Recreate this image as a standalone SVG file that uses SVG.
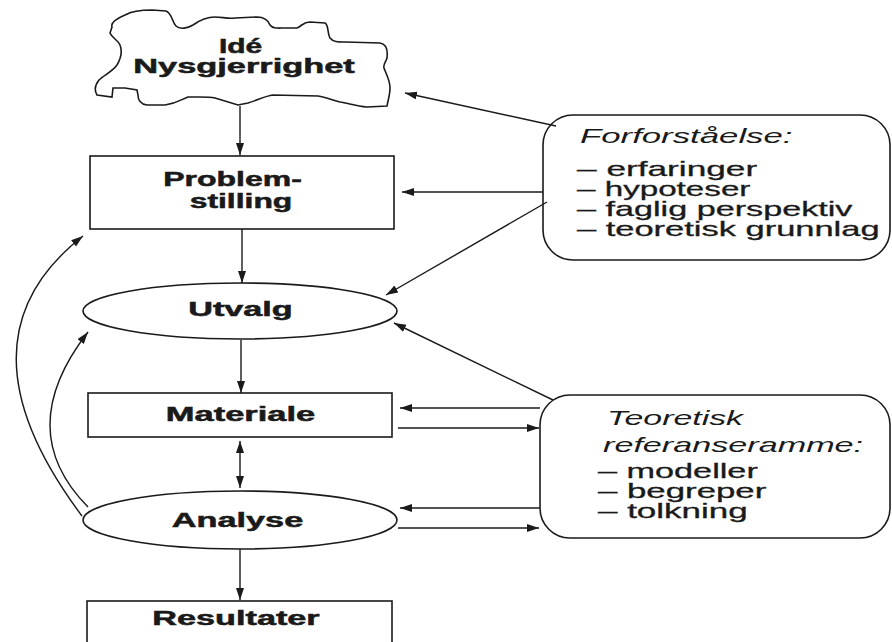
<svg xmlns="http://www.w3.org/2000/svg" width="892" height="642" viewBox="0 0 892 642">
<style>
.shape{fill:#fff;stroke:#1a1a1a;stroke-width:1.6}
.lbl{font-family:"Liberation Sans",Arial,sans-serif;font-weight:bold;font-size:19.5px;fill:#1a1a1a;stroke:#1a1a1a;stroke-width:0.5;text-anchor:middle}
.it{font-family:"Liberation Sans",Arial,sans-serif;font-style:italic;font-size:20px;fill:#1a1a1a}
.li{font-family:"Liberation Sans",Arial,sans-serif;font-size:20px;fill:#1a1a1a;stroke:#1a1a1a;stroke-width:0.3}
.con{fill:none;stroke:#1a1a1a;stroke-width:1.4}
</style>
<defs>
<marker id="ah" markerUnits="userSpaceOnUse" markerWidth="14" markerHeight="10" refX="12" refY="4" orient="auto-start-reverse">
<path d="M0,0 L12,4 L0,8 Z" fill="#1a1a1a"/>
</marker>
</defs>
<rect width="892" height="642" fill="#fff"/>
<g id="ide">
<path class="shape" d="M112,27 C110,22 118,18 125,15 C132,11 145,10 152,10 L166,11 C172,13 172,22 176,26 C180,30 188,28 193,25 C200,20 208,17 215,17 C222,17 228,19 235,18 L257,17 C264,17 268,20 270,25 C273,29 278,28 285,28 L297,28 C302,26 303,22 310,22 L325,23 C329,25 327,33 330,38 C333,42 338,42 345,42 L380,43 C386,44 388,50 387,58 C386,62 383,64 384,68 C386,74 390,80 390,88 C390,95 388,100 387,106 L367,107 C355,106 348,103 340,102 C332,100 326,97 318,96 L273,95 C265,96 258,100 248,103 L238,105 L215,98 C210,97 205,97 200,97 L188,97 C182,99 178,103 165,105 L147,105 C140,104 138,100 138,95 L137,90 L125,88 L113,88 L112,97 L97,95 C94,90 95,85 99,80 C104,75 112,72 117,65 C121,58 122,50 120,45 C118,40 112,38 110,33 Z"/>
<text class="lbl" transform="translate(240.5,53) scale(1.8,1)" textLength="24" lengthAdjust="spacingAndGlyphs">Idé</text>
<text class="lbl" transform="translate(244,73) scale(1.8,1)" textLength="123" lengthAdjust="spacingAndGlyphs">Nysgjerrighet</text>
</g>
<g id="problemstilling">
<rect class="shape" x="90" y="156" width="304" height="73"/>
<text class="lbl" transform="translate(232.5,186) scale(1.8,1)" textLength="77" lengthAdjust="spacingAndGlyphs">Problem-</text>
<text class="lbl" transform="translate(241,208) scale(1.8,1)" textLength="57" lengthAdjust="spacingAndGlyphs">stilling</text>
</g>
<g id="utvalg">
<ellipse class="shape" cx="240" cy="311" rx="157" ry="28"/>
<text class="lbl" transform="translate(240.5,316) scale(1.8,1)" textLength="58" lengthAdjust="spacingAndGlyphs">Utvalg</text>
</g>
<g id="materiale">
<rect class="shape" x="88" y="393" width="304" height="44"/>
<text class="lbl" transform="translate(240.5,421) scale(1.8,1)" textLength="83" lengthAdjust="spacingAndGlyphs">Materiale</text>
</g>
<g id="analyse">
<ellipse class="shape" cx="240" cy="520" rx="157" ry="29"/>
<text class="lbl" transform="translate(237.5,527) scale(1.8,1)" textLength="73" lengthAdjust="spacingAndGlyphs">Analyse</text>
</g>
<g id="resultater">
<rect class="shape" x="87" y="601" width="305" height="60"/>
<text class="lbl" transform="translate(236,625) scale(1.8,1)" textLength="93" lengthAdjust="spacingAndGlyphs">Resultater</text>
</g>
<g id="forforstaaelse">
<rect class="shape" x="543" y="115" width="347" height="145" rx="30" ry="30"/>
<text class="it" transform="translate(580,143) scale(1.7,1)" textLength="125" lengthAdjust="spacingAndGlyphs">Forforståelse:</text>
<text class="li" transform="translate(577,176) scale(1.7,1)" textLength="106" lengthAdjust="spacingAndGlyphs">– erfaringer</text>
<text class="li" transform="translate(577,196) scale(1.7,1)" textLength="102" lengthAdjust="spacingAndGlyphs">– hypoteser</text>
<text class="li" transform="translate(577,216) scale(1.7,1)" textLength="162" lengthAdjust="spacingAndGlyphs">– faglig perspektiv</text>
<text class="li" transform="translate(577,236) scale(1.7,1)" textLength="178" lengthAdjust="spacingAndGlyphs">– teoretisk grunnlag</text>
</g>
<g id="teoretisk">
<rect class="shape" x="540" y="395" width="350" height="143" rx="30" ry="30"/>
<text class="it" transform="translate(607,425) scale(1.7,1)" textLength="80" lengthAdjust="spacingAndGlyphs">Teoretisk</text>
<text class="it" transform="translate(603,452) scale(1.7,1)" textLength="153" lengthAdjust="spacingAndGlyphs">referanseramme:</text>
<text class="li" transform="translate(598,478) scale(1.7,1)" textLength="94" lengthAdjust="spacingAndGlyphs">– modeller</text>
<text class="li" transform="translate(598,498) scale(1.7,1)" textLength="99" lengthAdjust="spacingAndGlyphs">– begreper</text>
<text class="li" transform="translate(598,518) scale(1.7,1)" textLength="88" lengthAdjust="spacingAndGlyphs">– tolkning</text>
</g>
<g id="connectors">
<path class="con" d="M240,106 L240,155" marker-end="url(#ah)"/>
<path class="con" d="M242,229 L242,283" marker-end="url(#ah)"/>
<path class="con" d="M241,340 L241,393" marker-end="url(#ah)"/>
<path class="con" d="M240,441 L240,488" marker-start="url(#ah)" marker-end="url(#ah)"/>
<path class="con" d="M240,549 L240,600" marker-end="url(#ah)"/>
<path class="con" d="M556,126 L405,93" marker-end="url(#ah)"/>
<path class="con" d="M543,192 L402,192" marker-end="url(#ah)"/>
<path class="con" d="M547,202 L386,295" marker-end="url(#ah)"/>
<path class="con" d="M553,400 L394,323" marker-end="url(#ah)"/>
<path class="con" d="M540,408 L400,408" marker-end="url(#ah)"/>
<path class="con" d="M398,428 L539,428" marker-end="url(#ah)"/>
<path class="con" d="M540,508 L400,508" marker-end="url(#ah)"/>
<path class="con" d="M398,528 L539,528" marker-end="url(#ah)"/>
<path class="con" d="M82,516 Q-50,340 83,236" marker-end="url(#ah)"/>
<path class="con" d="M88,507 Q12,430 88,332" marker-end="url(#ah)"/>
</g>
</svg>
